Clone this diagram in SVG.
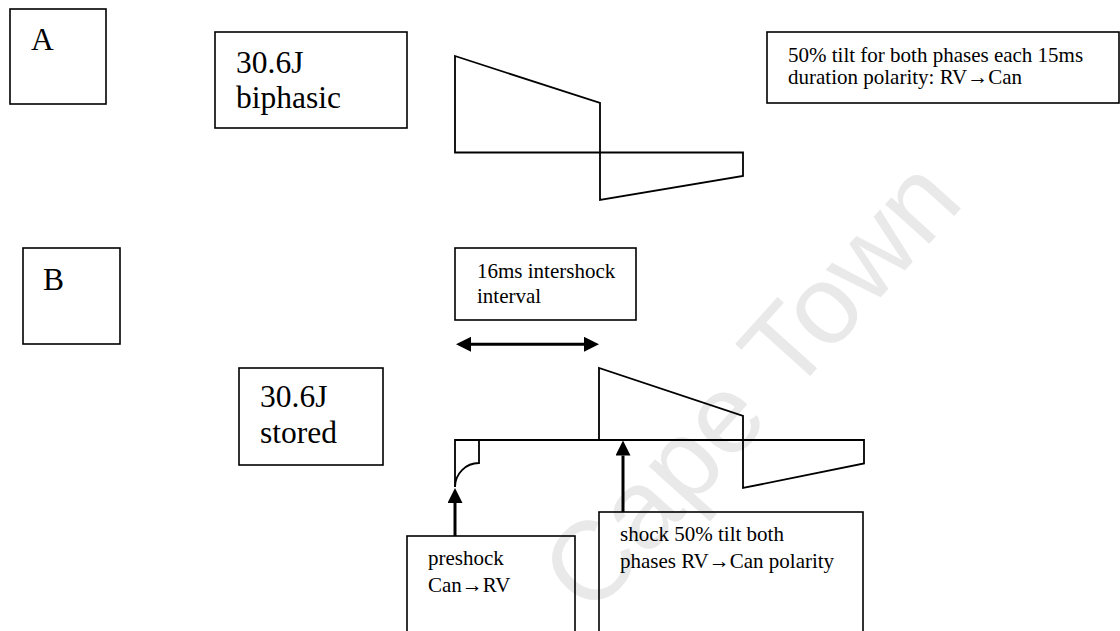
<svg xmlns="http://www.w3.org/2000/svg" width="1120" height="631" viewBox="0 0 1120 631">
  <defs>
    <style>
      .box { fill: none; stroke: #000; stroke-width: 1.6; }
      .wave { fill: none; stroke: #000; stroke-width: 1.8; stroke-linejoin: miter; }
      .big { font-family: "Liberation Serif", "DejaVu Serif", serif; font-size: 31.5px; fill: #000; }
      .small { font-family: "Liberation Serif", "DejaVu Serif", serif; font-size: 21px; fill: #000; }
      .shaft { fill: none; stroke: #000; stroke-width: 3; }
      .mark { font-family: "Liberation Sans", Arial, sans-serif; font-size: 112px; fill: #e9e9e9; }
    </style>
    <marker id="head" viewBox="0 0 15 15" refX="0" refY="7.5" markerWidth="15" markerHeight="15" markerUnits="userSpaceOnUse" orient="auto-start-reverse">
      <path d="M0,0 L15,7.5 L0,15 Z" fill="#000"/>
    </marker>
  </defs>

  <rect width="1120" height="631" fill="#fff"/>

  <!-- background watermark -->
  <text class="mark" x="592" y="618" transform="rotate(-48 592 618)">Cape Town</text>

  <!-- panel A -->
  <g id="label-A">
    <rect class="box" x="10" y="9" width="96" height="95"/>
    <text class="big" x="31" y="50">A</text>
  </g>
  <g id="energy-A">
    <rect class="box" x="215" y="32" width="192" height="96"/>
    <text class="big" x="236" y="72.7">30.6J</text>
    <text class="big" x="236" y="108.3">biphasic</text>
  </g>
  <g id="note-tilt">
    <rect class="box" x="767" y="32" width="352" height="71"/>
    <text class="small" x="788" y="61.5">50% tilt for both phases each 15ms</text>
    <text class="small" x="788" y="84">duration polarity: RV→Can</text>
  </g>
  <g id="waveform-A">
    <path class="wave" d="M455,56 L600,103 L600,200 L743,176 L743,152.5 L455,152.5 Z"/>
  </g>

  <!-- panel B -->
  <g id="label-B">
    <rect class="box" x="23" y="248" width="97" height="96"/>
    <text class="big" x="43" y="290">B</text>
  </g>
  <g id="energy-B">
    <rect class="box" x="239" y="368" width="144" height="97"/>
    <text class="big" x="260" y="406.7">30.6J</text>
    <text class="big" x="260" y="443">stored</text>
  </g>
  <g id="note-interval">
    <rect class="box" x="455" y="248" width="181" height="72"/>
    <text class="small" x="477" y="277.7">16ms intershock</text>
    <text class="small" x="477" y="303.3">interval</text>
  </g>
  <g id="waveform-B">
    <path class="wave" d="M455,487 L455,440 L864,440 L864,463.5 L743,488 L743,416 L599,368 L599,440"/>
    <path class="wave" d="M479,440 L479,463 A24,24 0 0 0 455,487"/>
  </g>
  <g id="note-preshock">
    <rect class="box" x="407" y="536" width="168" height="110"/>
    <text class="small" x="428" y="565">preshock</text>
    <text class="small" x="428" y="591.7">Can→RV</text>
  </g>
  <g id="note-shock">
    <rect class="box" x="599" y="512" width="264" height="130"/>
    <text class="small" x="620" y="540.7">shock 50% tilt both</text>
    <text class="small" x="620" y="568.3">phases RV→Can polarity</text>
  </g>

  <!-- connectors -->
  <g id="connectors">
    <line class="shaft" x1="471" y1="344.3" x2="584" y2="344.3" marker-start="url(#head)" marker-end="url(#head)"/>
    <line class="shaft" x1="455" y1="536" x2="455" y2="503" marker-end="url(#head)"/>
    <line class="shaft" x1="623" y1="512" x2="623" y2="455.5" marker-end="url(#head)"/>
  </g>
</svg>
